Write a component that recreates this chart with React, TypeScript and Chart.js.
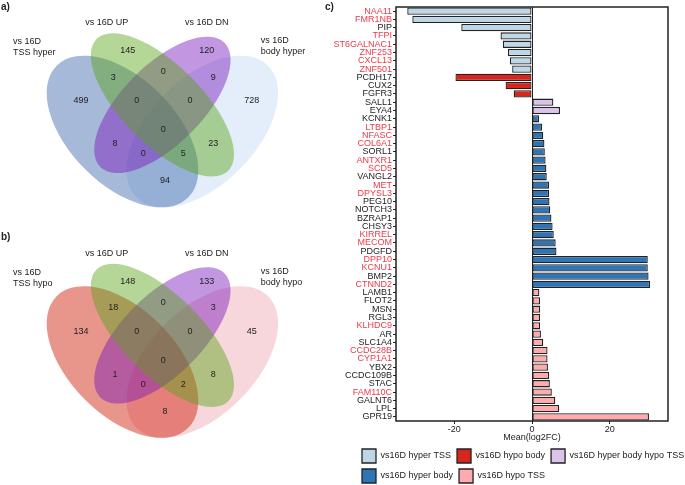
import React, { useEffect, useRef } from "react";
import { Chart, registerables } from "chart.js";

Chart.register(...registerables);

const FONT = "'Liberation Sans', Arial, sans-serif";
const TEXT = "#222222";
const RED_LABEL = "#ee3a4a";

// ---------------- Venn data ----------------
const vennRegionNames = [
  "UP", "DN", "TSS+UP", "UP+DN", "DN+body", "TSS", "TSS+UP+DN", "UP+DN+body",
  "body", "all", "TSS+DN", "UP+body", "TSS+DN+body", "TSS+UP+body", "TSS+body",
];
const vennHyperCounts = [145, 120, 3, 0, 9, 499, 0, 0, 728, 0, 8, 23, 0, 5, 94];
const vennHypoCounts = [148, 133, 18, 0, 3, 134, 0, 0, 45, 0, 1, 8, 0, 2, 8];
const vennHyperSets = ["vs 16D\nTSS hyper", "vs 16D UP", "vs 16D DN", "vs 16D\nbody hyper"];
const vennHypoSets = ["vs 16D\nTSS hypo", "vs 16D UP", "vs 16D DN", "vs 16D\nbody hypo"];
const vennHyperFills = [
  "rgba(57,99,168,0.45)",
  "rgba(88,164,22,0.45)",
  "rgba(119,22,186,0.45)",
  "rgba(193,217,244,0.45)",
];
const vennHypoFills = [
  "rgba(204,22,0,0.45)",
  "rgba(88,164,22,0.45)",
  "rgba(119,22,186,0.45)",
  "rgba(239,166,177,0.45)",
];

// Venn layout (in venn units, classic 4-set ellipse layout)
const ELLIPSES = [
  { cx: 0.35, cy: 0.47, a: 0.35, b: 0.2, rot: 135 },
  { cx: 0.5, cy: 0.57, a: 0.35, b: 0.15, rot: 135 },
  { cx: 0.5, cy: 0.57, a: 0.33, b: 0.15, rot: 45 },
  { cx: 0.65, cy: 0.47, a: 0.35, b: 0.2, rot: 45 },
];
const DRAW_ORDER = [3, 0, 2, 1];
const REGION_ANCHORS = [
  [0.3695, 0.7738], [0.6665, 0.7738], [0.3154, 0.6738], [0.5034, 0.6948],
  [0.6914, 0.6738], [0.194, 0.5858], [0.4034, 0.5858], [0.6038, 0.5858],
  [0.8357, 0.5858], [0.5034, 0.4756], [0.3218, 0.423], [0.6914, 0.423],
  [0.428, 0.3854], [0.5786, 0.3854], [0.5098, 0.2839],
];
const SET_ANCHORS: { x: number; y: number; align: CanvasTextAlign }[] = [
  { x: -0.062, y: 0.786, align: "left" },
  { x: 0.2906, y: 0.878, align: "center" },
  { x: 0.6665, y: 0.878, align: "center" },
  { x: 0.8695, y: 0.79, align: "left" },
];
const VENN_X_MIN = -0.1105;
const VENN_X_MAX = 1.1677;

// ---------------- Bar data ----------------
const genes = [
  "NAA11", "FMR1NB", "PIP", "TFPI", "ST6GALNAC1", "ZNF253", "CXCL13", "ZNF501",
  "PCDH17", "CUX2", "FGFR3",
  "SALL1", "EYA4",
  "KCNK1", "LTBP1", "NFASC", "COL6A1", "SORL1", "ANTXR1", "SCD5", "VANGL2", "MET",
  "DPYSL3", "PEG10", "NOTCH3", "BZRAP1", "CHSY3", "KIRREL", "MECOM", "PDGFD",
  "DPP10", "KCNU1", "BMP2", "CTNND2",
  "LAMB1", "FLOT2", "MSN", "RGL3", "KLHDC9", "AR", "SLC1A4", "CCDC28B", "CYP1A1",
  "YBX2", "CCDC109B", "STAC", "FAM110C", "GALNT6", "LPL", "GPR19",
];
const meanLog2FC = [
  -32.1, -30.8, -18.2, -8.1, -7.5, -6.2, -5.7, -5.1,
  -19.7, -6.8, -4.7,
  5.5, 7.2,
  1.8, 2.6, 2.9, 3.2, 3.3, 3.5, 3.7, 3.8, 4.4,
  4.4, 4.5, 4.7, 5.0, 5.3, 5.6, 6.1, 6.3,
  29.8, 29.8, 30.0, 30.4,
  1.9, 2.1, 2.1, 2.1, 2.1, 2.3, 2.9, 4.0, 4.0,
  4.1, 4.4, 4.6, 5.1, 6.0, 7.0, 30.1,
];
const groupNames = [
  "vs16D hyper TSS",
  "vs16D hypo body",
  "vs16D hyper body hypo TSS",
  "vs16D hyper body",
  "vs16D hypo TSS",
];
const groupColors = ["#bdd7e7", "#d7261e", "#dcc3ea", "#2f75b5", "#ffaaad"];
const geneGroup = [
  0, 0, 0, 0, 0, 0, 0, 0,
  1, 1, 1,
  2, 2,
  3, 3, 3, 3, 3, 3, 3, 3, 3,
  3, 3, 3, 3, 3, 3, 3, 3,
  3, 3, 3, 3,
  4, 4, 4, 4, 4, 4, 4, 4, 4,
  4, 4, 4, 4, 4, 4, 4,
];
const redGenes = [
  "NAA11", "FMR1NB", "TFPI", "ST6GALNAC1", "ZNF253", "CXCL13", "ZNF501",
  "LTBP1", "NFASC", "COL6A1", "ANTXR1", "SCD5", "MET", "DPYSL3", "KIRREL",
  "MECOM", "DPP10", "KCNU1", "CTNND2", "KLHDC9", "CCDC28B", "CYP1A1", "FAM110C",
];
const xTickValues = [-20, 0, 20];
const X_MIN = -35;
const X_MAX = 35;

// ---------------- Venn component ----------------
function makeVennPlugin(counts: number[], setNames: string[], fills: string[]) {
  return {
    id: "vennDraw",
    beforeDatasetsDraw(chart: any) {
      const { ctx } = chart;
      const xs = chart.scales.x;
      const ys = chart.scales.y;
      const k = xs.getPixelForValue(1) - xs.getPixelForValue(0);
      ctx.save();
      for (const i of DRAW_ORDER) {
        const e = ELLIPSES[i];
        ctx.fillStyle = fills[i];
        ctx.beginPath();
        ctx.ellipse(
          xs.getPixelForValue(e.cx),
          ys.getPixelForValue(e.cy),
          e.a * k,
          e.b * k,
          (-e.rot * Math.PI) / 180,
          0,
          Math.PI * 2
        );
        ctx.fill();
      }
      ctx.restore();
    },
    afterDatasetsDraw(chart: any) {
      const { ctx } = chart;
      const xs = chart.scales.x;
      const ys = chart.scales.y;
      const meta = chart.getDatasetMeta(0);
      ctx.save();
      ctx.fillStyle = TEXT;
      ctx.font = `9px ${FONT}`;
      ctx.textAlign = "center";
      ctx.textBaseline = "middle";
      meta.data.forEach((pt: any, i: number) => {
        ctx.fillText(String(counts[i]), pt.x, pt.y);
      });
      setNames.forEach((name, i) => {
        const anc = SET_ANCHORS[i];
        const lines = name.split("\n");
        const lh = 11;
        const px = xs.getPixelForValue(anc.x);
        const py = ys.getPixelForValue(anc.y);
        ctx.textAlign = anc.align;
        lines.forEach((ln, j) => {
          ctx.fillText(ln, px, py + (j - (lines.length - 1) / 2) * lh);
        });
      });
      ctx.restore();
    },
  };
}

function Venn(props: {
  counts: number[];
  setNames: string[];
  fills: string[];
  yMin: number;
  yMax: number;
  top: number;
  width: number;
  height: number;
}) {
  const ref = useRef<HTMLCanvasElement>(null);
  useEffect(() => {
    if (!ref.current) return;
    const chart = new Chart(ref.current, {
      type: "scatter",
      data: {
        datasets: [
          {
            label: "regions",
            data: REGION_ANCHORS.map((p) => ({ x: p[0], y: p[1] })),
            pointRadius: 0,
            pointHoverRadius: 0,
          },
        ],
      },
      options: {
        responsive: false,
        animation: false,
        events: [],
        layout: { padding: 0 },
        plugins: { legend: { display: false }, tooltip: { enabled: false } },
        scales: {
          x: { type: "linear", display: false, min: VENN_X_MIN, max: VENN_X_MAX },
          y: { type: "linear", display: false, min: props.yMin, max: props.yMax },
        },
      } as any,
      plugins: [makeVennPlugin(props.counts, props.setNames, props.fills)],
    });
    return () => chart.destroy();
  }, []);
  return (
    <canvas
      ref={ref}
      width={props.width}
      height={props.height}
      style={{
        position: "absolute",
        left: 0,
        top: props.top,
        width: props.width,
        height: props.height,
        display: "block",
      }}
    />
  );
}

// ---------------- Bar component ----------------
const framePlugin = {
  id: "frame",
  afterDatasetsDraw(chart: any) {
    const { ctx, chartArea } = chart;
    ctx.save();
    ctx.strokeStyle = TEXT;
    ctx.lineWidth = 1.5;
    ctx.strokeRect(
      chartArea.left,
      chartArea.top,
      chartArea.right - chartArea.left,
      chartArea.bottom - chartArea.top
    );
    ctx.restore();
  },
};

// move the legend block so it starts under the plot like the reference
const legendShiftPlugin = {
  id: "legendShift",
  afterLayout(chart: any) {
    if (chart.legend) chart.legend.left += 24;
  },
};

function Bars() {
  const ref = useRef<HTMLCanvasElement>(null);
  useEffect(() => {
    if (!ref.current) return;
    const datasets = groupNames.map((name, g) => ({
      label: name,
      data: meanLog2FC.map((v, i) => (geneGroup[i] === g ? v : null)),
      backgroundColor: groupColors[g],
      borderColor: TEXT,
      borderWidth: 1.3,
      borderSkipped: false,
      barPercentage: 0.88,
      categoryPercentage: 1,
    }));
    const chart = new Chart(ref.current, {
      type: "bar",
      data: { labels: genes, datasets },
      options: {
        indexAxis: "y",
        responsive: false,
        animation: false,
        events: [],
        layout: { padding: { left: 2, right: 0, top: 7, bottom: 0 } },
        plugins: {
          legend: {
            position: "bottom",
            align: "start",
            labels: {
              boxWidth: 14,
              boxHeight: 14,
              padding: 6,
              color: TEXT,
              font: { family: FONT, size: 9 },
            },
          },
          tooltip: { enabled: false },
        },
        scales: {
          x: {
            type: "linear",
            min: X_MIN,
            max: X_MAX,
            stacked: true,
            afterBuildTicks: (s: any) => {
              s.ticks = xTickValues.map((v) => ({ value: v }));
            },
            afterFit: (s: any) => {
              s.height = 22;
            },
            grid: {
              color: (c: any) =>
                c.tick && c.tick.value === 0 ? TEXT : "rgba(0,0,0,0)",
              tickColor: TEXT,
              tickLength: 3,
              lineWidth: 1,
            },
            border: { display: false },
            ticks: {
              color: TEXT,
              font: { family: FONT, size: 9 },
              padding: 0,
              maxRotation: 0,
            },
            title: {
              display: true,
              text: "Mean(log2FC)",
              color: TEXT,
              font: { family: FONT, size: 9 },
              padding: 0,
            },
          },
          y: {
            type: "category",
            stacked: true,
            offset: true,
            afterFit: (s: any) => {
              s.width = 64;
            },
            grid: {
              display: true,
              drawOnChartArea: false,
              offset: false,
              tickLength: 3,
              tickColor: TEXT,
            },
            border: { display: false },
            ticks: {
              autoSkip: false,
              padding: 1,
              font: { family: FONT, size: 9 },
              color: (c: any) =>
                redGenes.includes(genes[c.index]) ? RED_LABEL : TEXT,
            },
          },
          y2: {
            type: "linear",
            position: "right",
            display: true,
            grid: { display: false },
            border: { display: false },
            ticks: { display: false },
            afterFit: (s: any) => {
              s.width = 32;
            },
          },
        },
      } as any,
      plugins: [framePlugin, legendShiftPlugin],
    });
    return () => chart.destroy();
  }, []);
  return (
    <canvas
      ref={ref}
      width={370}
      height={493}
      style={{
        position: "absolute",
        left: 330,
        top: 0,
        width: 370,
        height: 493,
        display: "block",
      }}
    />
  );
}

const letterStyle = (left: number, top: number): React.CSSProperties => ({
  position: "absolute",
  left,
  top,
  font: `bold 10px ${FONT}`,
  lineHeight: "12px",
  color: TEXT,
});

export default function App() {
  return (
    <div
      style={{
        position: "absolute",
        left: 0,
        top: 0,
        width: 685,
        height: 485,
        overflow: "hidden",
        background: "#ffffff",
      }}
    >
      <Venn
        counts={vennHyperCounts}
        setNames={vennHyperSets}
        fills={vennHyperFills}
        yMin={0.0621}
        yMax={0.9644}
        top={0}
        width={340}
        height={240}
      />
      <Venn
        counts={vennHypoCounts}
        setNames={vennHypoSets}
        fills={vennHypoFills}
        yMin={0.0076}
        yMax={0.9286}
        top={240}
        width={340}
        height={245}
      />
      <Bars />
      <div style={letterStyle(1, 1)}>a)</div>
      <div style={letterStyle(1, 231)}>b)</div>
      <div style={letterStyle(325, 1)}>c)</div>
    </div>
  );
}
